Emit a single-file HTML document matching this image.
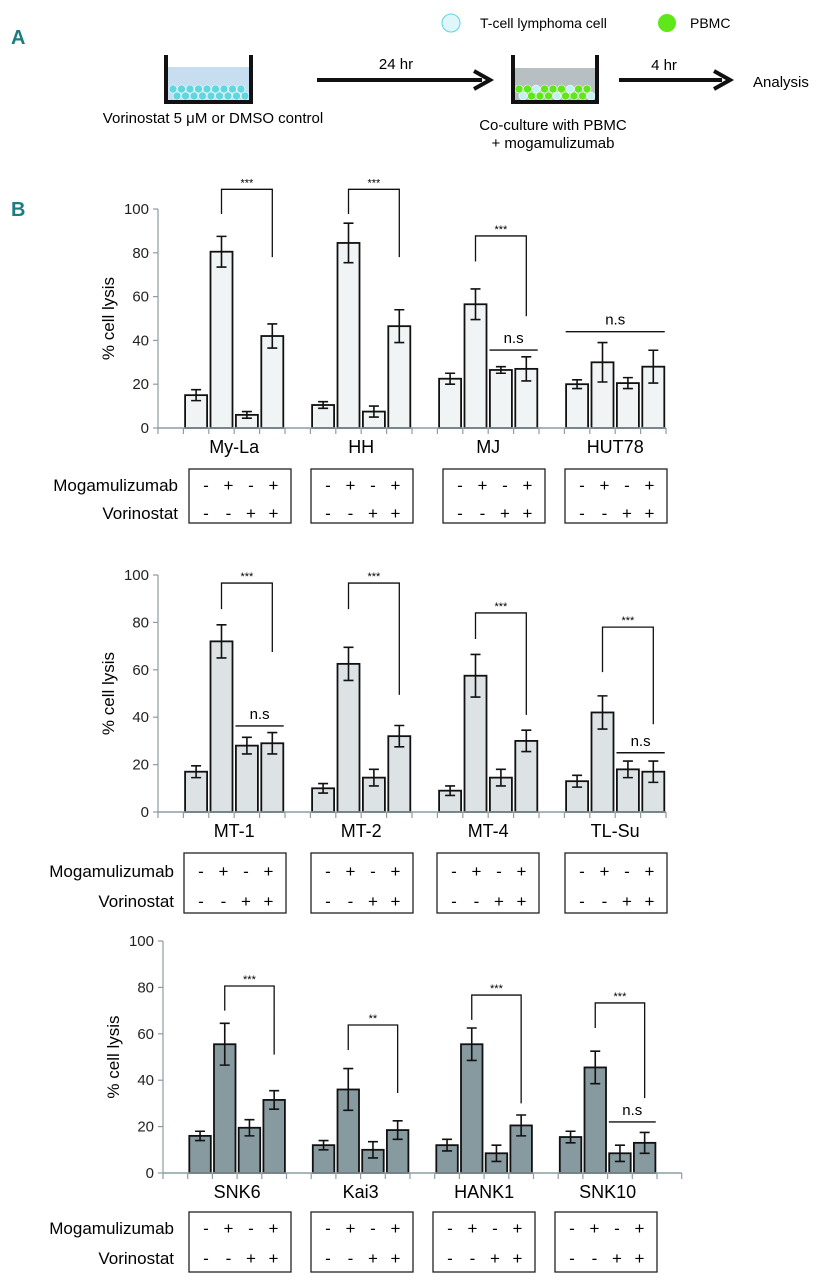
<!DOCTYPE html>
<html><head><meta charset="utf-8"><style>
html,body{margin:0;padding:0;background:#fff;}
svg{display:block;font-family:"Liberation Sans",sans-serif;}
</style></head><body>
<svg id="fig" width="823" height="1280" viewBox="0 0 823 1280" xmlns="http://www.w3.org/2000/svg">
<g>
  <text x="11" y="44" font-size="20" font-weight="bold" fill="#1a7d80">A</text>
  <circle cx="451" cy="23" r="9" fill="#dff7fb" stroke="#5fd3df" stroke-width="1"/>
  <text x="480" y="28" font-size="14">T-cell lymphoma cell</text>
  <circle cx="667" cy="23" r="9" fill="#5ee81a"/>
  <text x="690" y="28" font-size="14">PBMC</text>
  <g>
    <rect x="167" y="67" width="83" height="34" fill="#c7ddf0"/>
    <g id="cells1"></g>
    <path d="M166 55 V102 H251 V55" fill="none" stroke="#111" stroke-width="4"/>
  </g>
  <text x="213" y="123" font-size="15" text-anchor="middle">Vorinostat 5 μM or DMSO control</text>
  <g>
    <line x1="317" y1="80" x2="482" y2="80" stroke="#111" stroke-width="4"/>
    <path d="M474 71 L490 80 L474 89" fill="none" stroke="#111" stroke-width="4"/>
  </g>
  <text x="396" y="69" font-size="15" text-anchor="middle">24 hr</text>
  <g>
    <rect x="514" y="68" width="82" height="33" fill="#b8bfc2"/>
    <g id="cells2"></g>
    <path d="M513 55 V102 H597 V55" fill="none" stroke="#111" stroke-width="4"/>
  </g>
  <text x="553" y="130" font-size="15" text-anchor="middle">Co-culture with PBMC</text>
  <text x="553" y="148" font-size="15" text-anchor="middle">+ mogamulizumab</text>
  <g>
    <line x1="619" y1="80" x2="722" y2="80" stroke="#111" stroke-width="4"/>
    <path d="M714 71 L730 80 L714 89" fill="none" stroke="#111" stroke-width="4"/>
  </g>
  <text x="664" y="70" font-size="15" text-anchor="middle">4 hr</text>
  <text x="753" y="87" font-size="15">Analysis</text>
</g>
<text x="11" y="216" font-size="20" font-weight="bold" fill="#1a7d80">B</text>
<g id="charts"></g>
</svg>
<script>
// ---- Chart 1 data ----
const cats1 = ["My-La","HH","MJ","HUT78"];
const vals1 = [[15,80.5,6,42],[10.5,84.5,7.5,46.5],[22.5,56.5,26.5,27],[20,30,20.5,28]];
const errs1 = [[2.5,7,1.5,5.5],[1.5,9,2.5,7.5],[2.5,7,1.5,5.5],[2,9,2.5,7.5]];
const brk1 = [[109,97.7,78,"***"],[109,97.7,78,"***"],[87.7,76,51,"***"],null];
const ns1 = [null,null,[2,3,35.6],[0,3,44]];
// ---- Chart 2 data ----
const cats2 = ["MT-1","MT-2","MT-4","TL-Su"];
const vals2 = [[17,72,28,29],[10,62.5,14.5,32],[9,57.5,14.5,30],[13,42,18,17]];
const errs2 = [[2.5,7,3.5,4.5],[2,7,3.5,4.5],[2,9,3.5,4.5],[2.5,7,3.5,4.5]];
const brk2 = [[96.6,85.6,67.5,"***"],[96.6,85.6,49.4,"***"],[84,73,41,"***"],[78,59,37,"***"]];
const ns2 = [[2,3,36.3],null,null,[2,3,25]];
// ---- Chart 3 data ----
const cats3 = ["SNK6","Kai3","HANK1","SNK10"];
const vals3 = [[16,55.5,19.5,31.5],[12,36,10,18.5],[12,55.5,8.5,20.5],[15.5,45.5,8.5,13]];
const errs3 = [[2,9,3.5,4],[2,9,3.5,4],[2.5,7,3.5,4.5],[2.5,7,3.5,4.5]];
const brk3 = [[80.6,70,51,"***"],[63.8,53,34.5,"**"],[76.7,66,30,"***"],[73.3,62.5,32.3,"***"]];
const ns3 = [null,null,null,[2,3,22]];
const yTicks = [0,20,40,60,80,100];
const mogRow = ["-","+","-","+"];
const vorRow = ["-","-","+","+"];

const NS="http://www.w3.org/2000/svg";
const root=document.getElementById('charts');
function mk(tag,attrs,parent){const e=document.createElementNS(NS,tag);for(const k in attrs)e.setAttribute(k,attrs[k]);(parent||root).appendChild(e);return e;}

function drawChart(cfg,cats,vals,errs,brk,ns,idx){
  const g=mk('g',{});
  
  
  const y=v=>cfg.y0-(v/100)*(cfg.y0-cfg.y100);
  const slot=cfg.slot;
  const xc=(gi,bi)=>cfg.x0+slot*(gi*5+1+bi)+slot/2;
  const ax=mk('line',{x1:cfg.x0,y1:y(0),x2:cfg.x0,y2:y(100),stroke:'#8c9da2','stroke-width':1.2},g);
  
  
  yTicks.forEach(t=>{
    mk('line',{x1:cfg.x0-5,y1:y(t),x2:cfg.x0,y2:y(t),stroke:'#8c9da2','stroke-width':1.2},g);
    const tl=mk('text',{x:cfg.x0-9,y:y(t)+5,'font-size':15,'text-anchor':'end',fill:'#222'},g);
    tl.textContent=t;
    
    
  });
  const yl=mk('text',{x:0,y:0,'font-size':17,'text-anchor':'middle',transform:`translate(${cfg.x0-44},${y(50)}) rotate(-90)`},g);
  yl.textContent='% cell lysis';
  
  
  cats.forEach((c,gi)=>{
    vals[gi].forEach((v,bi)=>{
      const cx=xc(gi,bi);
      const b=mk('rect',{x:cx-cfg.bw/2,y:y(v),width:cfg.bw,height:y(0)-y(v),fill:cfg.fill,stroke:'#111','stroke-width':1.8},g);
      
      
      const e=errs[gi][bi];
      const eb=mk('path',{d:`M${cx} ${y(v-e)} V${y(v+e)} M${cx-5} ${y(v-e)} H${cx+5} M${cx-5} ${y(v+e)} H${cx+5}`,stroke:'#111','stroke-width':1.6,fill:'none'},g);
      
      
    });
    const lb=mk('text',{x:(xc(gi,0)+xc(gi,3))/2,y:cfg.y0+25,'font-size':18,'text-anchor':'middle'},g);
    lb.textContent=c;
    
    
    const br=brk[gi];
    if(br){
      const x1=xc(gi,1),x2=xc(gi,3);
      const p=mk('path',{d:`M${x1} ${y(br[1])} V${y(br[0])} H${x2} V${y(br[2])}`,stroke:'#111','stroke-width':1.3,fill:'none'},g);
      
      
      const st=mk('text',{x:(x1+x2)/2,y:y(br[0])-3,'font-size':11,'text-anchor':'middle'},g);
      st.textContent=br[3];
      
      
    }
    const n=ns[gi];
    if(n){
      const x1=xc(gi,n[0])-slot*0.45,x2=xc(gi,n[1])+slot*0.45;
      const l=mk('line',{x1:x1,y1:y(n[2]),x2:x2,y2:y(n[2]),stroke:'#111','stroke-width':1.4},g);
      
      
      const t=mk('text',{x:(x1+x2)/2,y:y(n[2])-7,'font-size':15,'text-anchor':'middle'},g);
      t.textContent='n.s';
      
      
    }
    const bx=cfg.boxes[gi];
    const rb=mk('rect',{x:bx,y:cfg.ty,width:102,height:cfg.th,fill:'none',stroke:'#222','stroke-width':1.3},g);
    
    
    for(let i=0;i<4;i++){
      const tx=bx+17+i*22.5;
      const m=mk('text',{x:tx,y:cfg.r1+6,'font-size':17,'text-anchor':'middle'},g);
      m.textContent=mogRow[i];
      
      
      const v=mk('text',{x:tx,y:cfg.r2+6,'font-size':17,'text-anchor':'middle'},g);
      v.textContent=vorRow[i];
      
      
    }
  });
  const xa=mk('line',{x1:cfg.x0,y1:cfg.y0,x2:cfg.x0+slot*cfg.nslots,y2:cfg.y0,stroke:'#8c9da2','stroke-width':1.4},g);
  
  
  for(let i=0;i<=cfg.nslots;i++) mk('line',{x1:cfg.x0+i*slot,y1:cfg.y0,x2:cfg.x0+i*slot,y2:cfg.y0+6,stroke:'#8c9da2','stroke-width':1.2},g);
  const ml=mk('text',{x:cfg.lx,y:cfg.r1+6,'font-size':17,'text-anchor':'end'},g);
  ml.textContent='Mogamulizumab';
  
  
  const vl=mk('text',{x:cfg.lx,y:cfg.r2+6,'font-size':17,'text-anchor':'end'},g);
  vl.textContent='Vorinostat';
  
  
}
drawChart({x0:158,y0:428,y100:209,slot:25.4,bw:22,nslots:20,fill:'#f1f4f5',boxes:[189,311,443,565],ty:469,th:54,r1:485,r2:513,lx:178},cats1,vals1,errs1,brk1,ns1,1);
drawChart({x0:158,y0:812,y100:575,slot:25.4,bw:22,nslots:20,fill:'#dde3e4',boxes:[184,311,437,565],ty:853,th:60,r1:871,r2:901,lx:174},cats2,vals2,errs2,brk2,ns2,2);
drawChart({x0:163,y0:1173,y100:941,slot:24.7,bw:21.5,nslots:21,fill:'#879a9f',boxes:[189,311,433,555],ty:1212,th:60,r1:1228,r2:1258,lx:174},cats3,vals3,errs3,brk3,ns3,3);

function cells(id,x0,colors){const g=document.getElementById(id);for(let r=0;r<2;r++)for(let i=0;i<9;i++){mk('circle',{cx:x0+i*8.5+(r?4:0),cy:r?96:89,r:4,fill:colors[(i+r*2)%colors.length],stroke:'#fff','stroke-width':0.6},g);}}
cells('cells1',173,['#5fd7e0']);
cells('cells2',519,['#5ee81a','#5ee81a','#bff2f5','#5ee81a']);
</script>
</body></html>
